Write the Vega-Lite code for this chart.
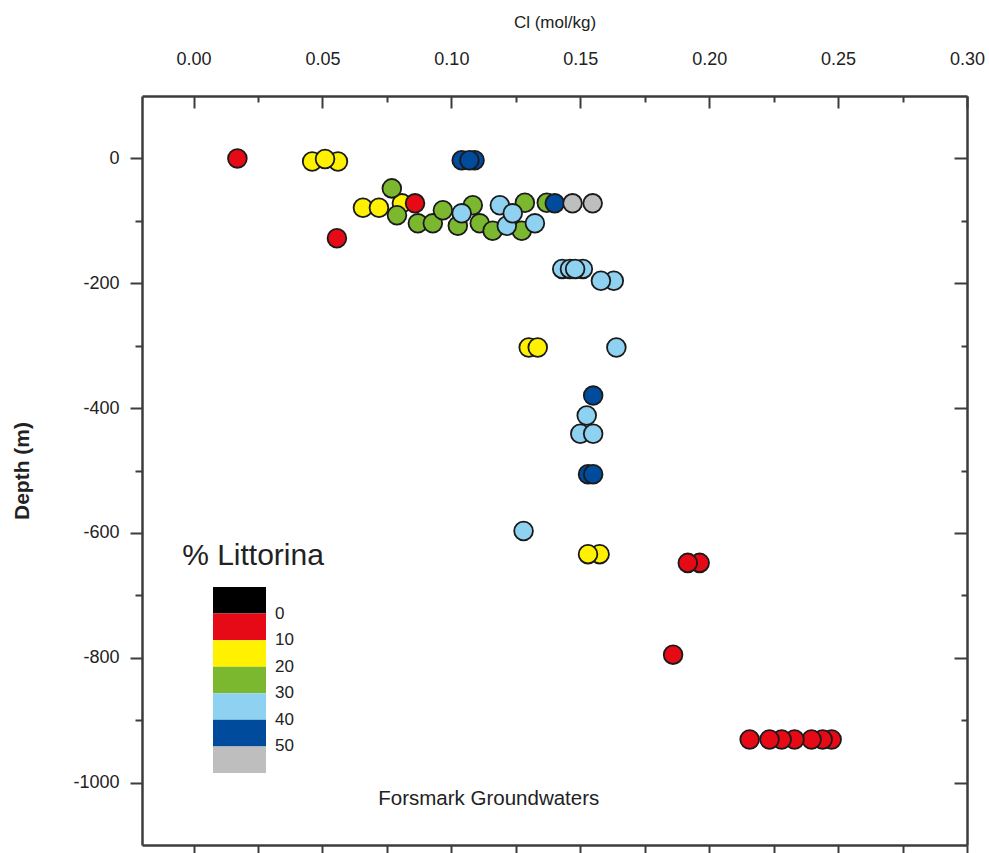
{
  "$schema": "https://vega.github.io/schema/vega-lite/v6.json",
  "width": 825,
  "height": 749,
  "autosize": {"type": "none"},
  "padding": {"left": 142, "top": 96, "right": 22, "bottom": 8},
  "background": "white",
  "config": {
    "view": {"stroke": null},
    "font": "Liberation Sans",
    "axis": {
      "grid": false,
      "domainColor": "#3c3c3c",
      "domainWidth": 2.5,
      "tickColor": "#3c3c3c",
      "tickWidth": 2,
      "labelFont": "Liberation Sans",
      "labelFontSize": 18,
      "labelColor": "#222222",
      "titleFont": "Liberation Sans",
      "titleColor": "#222222"
    }
  },
  "datasets": {
    "samples": [
      {"cl": 0.017, "depth": 0, "lit": 5},
      {"cl": 0.046, "depth": -5, "lit": 15},
      {"cl": 0.056, "depth": -5, "lit": 15},
      {"cl": 0.051, "depth": -1, "lit": 15},
      {"cl": 0.104, "depth": -3, "lit": 45},
      {"cl": 0.109, "depth": -3, "lit": 45},
      {"cl": 0.107, "depth": -3, "lit": 45},
      {"cl": 0.0657, "depth": -79, "lit": 15},
      {"cl": 0.0719, "depth": -79, "lit": 15},
      {"cl": 0.0808, "depth": -72, "lit": 15},
      {"cl": 0.0769, "depth": -48, "lit": 25},
      {"cl": 0.0859, "depth": -72, "lit": 5},
      {"cl": 0.0789, "depth": -91, "lit": 25},
      {"cl": 0.087, "depth": -104, "lit": 25},
      {"cl": 0.0928, "depth": -104, "lit": 25},
      {"cl": 0.0967, "depth": -83, "lit": 25},
      {"cl": 0.1025, "depth": -108, "lit": 25},
      {"cl": 0.1083, "depth": -75, "lit": 25},
      {"cl": 0.111, "depth": -104, "lit": 25},
      {"cl": 0.116, "depth": -116, "lit": 25},
      {"cl": 0.104, "depth": -88, "lit": 35},
      {"cl": 0.1273, "depth": -116, "lit": 25},
      {"cl": 0.1285, "depth": -71, "lit": 25},
      {"cl": 0.1188, "depth": -75, "lit": 35},
      {"cl": 0.1215, "depth": -108, "lit": 35},
      {"cl": 0.1238, "depth": -88, "lit": 35},
      {"cl": 0.1324, "depth": -104, "lit": 35},
      {"cl": 0.137, "depth": -71, "lit": 25},
      {"cl": 0.1401, "depth": -72, "lit": 45},
      {"cl": 0.147, "depth": -72, "lit": 55},
      {"cl": 0.1548, "depth": -72, "lit": 55},
      {"cl": 0.0556, "depth": -128, "lit": 5},
      {"cl": 0.143, "depth": -177, "lit": 35},
      {"cl": 0.151, "depth": -177, "lit": 35},
      {"cl": 0.146, "depth": -177, "lit": 35},
      {"cl": 0.148, "depth": -177, "lit": 35},
      {"cl": 0.163, "depth": -196, "lit": 35},
      {"cl": 0.158, "depth": -196, "lit": 35},
      {"cl": 0.130, "depth": -303, "lit": 15},
      {"cl": 0.1335, "depth": -303, "lit": 15},
      {"cl": 0.164, "depth": -303, "lit": 35},
      {"cl": 0.155, "depth": -380, "lit": 45},
      {"cl": 0.1525, "depth": -412, "lit": 35},
      {"cl": 0.150, "depth": -441, "lit": 35},
      {"cl": 0.155, "depth": -441, "lit": 35},
      {"cl": 0.153, "depth": -506, "lit": 45},
      {"cl": 0.155, "depth": -506, "lit": 45},
      {"cl": 0.128, "depth": -597, "lit": 35},
      {"cl": 0.1575, "depth": -634, "lit": 15},
      {"cl": 0.153, "depth": -634, "lit": 15},
      {"cl": 0.1963, "depth": -648, "lit": 5},
      {"cl": 0.1917, "depth": -648, "lit": 5},
      {"cl": 0.186, "depth": -795, "lit": 5},
      {"cl": 0.2475, "depth": -931, "lit": 5},
      {"cl": 0.244, "depth": -931, "lit": 5},
      {"cl": 0.2397, "depth": -931, "lit": 5},
      {"cl": 0.2331, "depth": -931, "lit": 5},
      {"cl": 0.2281, "depth": -931, "lit": 5},
      {"cl": 0.2234, "depth": -931, "lit": 5},
      {"cl": 0.2157, "depth": -931, "lit": 5}
    ],
    "notes": [
      {"cl": 0.1145, "depth": -1026, "label": "Forsmark Groundwaters"}
    ]
  },
  "data": {"name": "samples"},
  "layer": [
    {
      "mark": {"type": "circle", "size": 350, "opacity": 1, "stroke": "#1a1a1a", "strokeWidth": 1.8},
      "encoding": {
        "x": {
          "field": "cl", "type": "quantitative",
          "scale": {"domain": [-0.02, 0.30], "nice": false, "zero": false},
          "axis": {
            "orient": "top", "title": "Cl (mol/kg)", "titleFontSize": 17, "titleFontWeight": "normal", "titlePadding": 19,
            "values": [0, 0.05, 0.1, 0.15, 0.2, 0.25, 0.3], "format": ".2f",
            "tickSize": -12, "labelPadding": 40, "labelFlush": false
          }
        },
        "y": {
          "field": "depth", "type": "quantitative",
          "scale": {"domain": [-1100, 100], "nice": false, "zero": false},
          "axis": {
            "orient": "left", "title": "Depth (m)", "titleFontSize": 21, "titleFontWeight": "bold", "titlePadding": 40,
            "values": [-1000, -800, -600, -400, -200, 0], "labelExpr": "'' + datum.value",
            "tickSize": 12, "labelPadding": 11, "labelFlush": false
          }
        },
        "color": {
          "field": "lit", "type": "quantitative",
          "scale": {
            "type": "threshold",
            "domain": [0, 10, 20, 30, 40, 50],
            "range": ["#000000", "#e60a17", "#fff100", "#7cb82f", "#8ed1f0", "#004b9b", "#bebebe"]
          },
          "legend": {
            "type": "gradient", "orient": "none", "direction": "vertical",
            "legendX": 40, "legendY": 445,
            "title": "% Littorina", "titleFontSize": 30, "titleFontWeight": "normal", "titleColor": "#222222",
            "titleAnchor": "middle", "titlePadding": 202,
            "gradientLength": -186, "gradientThickness": 53, "gradientStrokeWidth": 0,
            "labelFontSize": 17, "labelOffset": 9, "labelColor": "#222222"
          }
        }
      }
    },
    {
      "data": {"name": "notes"},
      "mark": {"type": "text", "fontSize": 20.5, "color": "#222222", "font": "Liberation Sans"},
      "encoding": {
        "x": {
          "field": "cl", "type": "quantitative",
          "axis": {
            "orient": "bottom", "title": null, "labels": false, "tickSize": 8,
            "values": [0, 0.025, 0.05, 0.075, 0.1, 0.125, 0.15, 0.175, 0.2, 0.225, 0.25, 0.275, 0.3]
          }
        },
        "y": {
          "field": "depth", "type": "quantitative",
          "axis": {
            "orient": "right", "title": null, "labels": false, "tickSize": -13,
            "values": [-1000, -800, -600, -400, -200, 0]
          }
        },
        "text": {"field": "label"}
      }
    },
    {
      "mark": {"type": "circle", "opacity": 0},
      "encoding": {
        "x": {
          "field": "cl", "type": "quantitative",
          "axis": {
            "orient": "top", "title": null, "labels": false, "domain": false, "tickSize": -6,
            "values": [0.025, 0.075, 0.125, 0.175, 0.225, 0.275]
          }
        },
        "y": {
          "field": "depth", "type": "quantitative",
          "axis": {
            "orient": "left", "title": null, "labels": false, "domain": false, "tickSize": 7,
            "values": [-900, -700, -500, -300, -100]
          }
        }
      }
    },
    {
      "mark": {"type": "circle", "opacity": 0},
      "encoding": {
        "x": {"field": "cl", "type": "quantitative", "axis": null},
        "y": {
          "field": "depth", "type": "quantitative",
          "axis": {
            "orient": "right", "title": null, "labels": false, "domain": false, "tickSize": -6,
            "values": [-900, -700, -500, -300, -100]
          }
        }
      }
    }
  ],
  "resolve": {"axis": {"x": "independent", "y": "independent"}}
}
